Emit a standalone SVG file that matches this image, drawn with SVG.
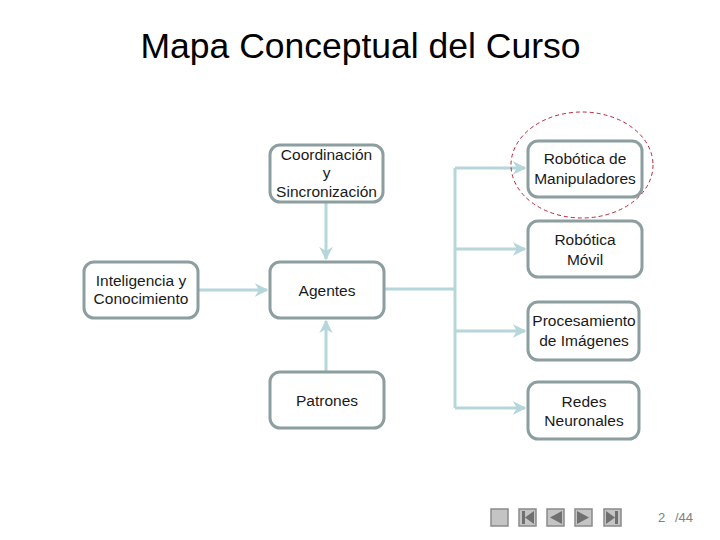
<svg xmlns="http://www.w3.org/2000/svg" width="720" height="540" viewBox="0 0 720 540">
<defs>
<style>
.box{fill:#ffffff;stroke:#8c9e9f;stroke-width:3}
.lbl{font-family:"Liberation Sans",Arial,sans-serif;font-size:15.5px;fill:#1a1a1a;text-anchor:middle}
.con{fill:none;stroke:#b5d6da;stroke-width:3}
.nav{fill:#c4c4c4;stroke:#8a8a8a;stroke-width:1.5}
.ico{fill:#707070}
</style>
<marker id="ah" viewBox="0 0 10 10" refX="9" refY="5" markerWidth="4.5" markerHeight="4.5" orient="auto" markerUnits="strokeWidth">
<path d="M0,0 L10,5 L0,10 L3,5 Z" fill="#b5d6da"/>
</marker>
</defs>
<rect width="720" height="540" fill="#ffffff"/>
<text x="360.5" y="58" font-family="'Liberation Sans',Arial,sans-serif" font-size="35.5" text-anchor="middle" fill="#000">Mapa Conceptual del Curso</text>

<g id="connectors">
<path class="con" d="M326,203 V259" marker-end="url(#ah)"/>
<path class="con" d="M326,371 V321" marker-end="url(#ah)"/>
<path class="con" d="M198,290 H267" marker-end="url(#ah)"/>
<path class="con" d="M384,289 H455"/>
<path class="con" d="M455,168 V408"/>
<path class="con" d="M455,168 H525" marker-end="url(#ah)"/>
<path class="con" d="M455,249 H525" marker-end="url(#ah)"/>
<path class="con" d="M455,331 H525" marker-end="url(#ah)"/>
<path class="con" d="M455,408 H525" marker-end="url(#ah)"/>
</g>

<g id="coordinacion">
<rect class="box" x="270" y="145" width="113" height="57" rx="10"/>
<text class="lbl" x="326.5" y="160">Coordinación</text>
<text class="lbl" x="326.5" y="178">y</text>
<text class="lbl" x="326.5" y="197">Sincronización</text>
</g>
<g id="inteligencia">
<rect class="box" x="84" y="262" width="114" height="56" rx="10"/>
<text class="lbl" x="141" y="286">Inteligencia y</text>
<text class="lbl" x="141" y="304">Conocimiento</text>
</g>
<g id="agentes">
<rect class="box" x="270" y="262" width="114" height="56" rx="10"/>
<text class="lbl" x="327" y="296">Agentes</text>
</g>
<g id="patrones">
<rect class="box" x="270" y="372" width="114" height="56" rx="10"/>
<text class="lbl" x="327" y="406">Patrones</text>
</g>
<g id="manipuladores">
<rect class="box" x="528" y="141" width="114" height="56" rx="10"/>
<text class="lbl" x="585" y="164">Robótica de</text>
<text class="lbl" x="585" y="184">Manipuladores</text>
</g>
<g id="movil">
<rect class="box" x="528" y="221" width="114" height="56" rx="10"/>
<text class="lbl" x="585" y="245">Robótica</text>
<text class="lbl" x="585" y="265">Móvil</text>
</g>
<g id="procesamiento">
<rect class="box" x="528" y="302" width="111" height="58" rx="10"/>
<text class="lbl" x="584" y="326" font-size="14.5">Procesamiento</text>
<text class="lbl" x="584" y="346">de Imágenes</text>
</g>
<g id="redes">
<rect class="box" x="528" y="382" width="111" height="57" rx="10"/>
<text class="lbl" x="584" y="407">Redes</text>
<text class="lbl" x="584" y="426">Neuronales</text>
</g>

<ellipse cx="582" cy="165" rx="71" ry="53" fill="none" stroke="#b8283a" stroke-width="1" stroke-dasharray="4,3"/>

<g id="navigation">
<rect class="nav" x="491" y="509" width="17" height="17"/>
<rect class="nav" x="519" y="509" width="17" height="17"/>
<rect class="ico" x="522" y="511" width="3" height="13"/>
<polygon class="ico" points="534,511 525,517.5 534,524"/>
<rect class="nav" x="547" y="509" width="17" height="17"/>
<polygon class="ico" points="562,511 550,517.5 562,524"/>
<rect class="nav" x="575" y="509" width="17" height="17"/>
<polygon class="ico" points="577,511 589,517.5 577,524"/>
<rect class="nav" x="604" y="509" width="17" height="17"/>
<polygon class="ico" points="606,511 615,517.5 606,524"/>
<rect class="ico" x="615" y="511" width="3" height="13"/>
<text x="658" y="522" font-family="'Liberation Sans',Arial,sans-serif" font-size="13" fill="#808080">2</text>
<text x="675" y="522" font-family="'Liberation Sans',Arial,sans-serif" font-size="13" fill="#808080">/44</text>
</g>
</svg>
